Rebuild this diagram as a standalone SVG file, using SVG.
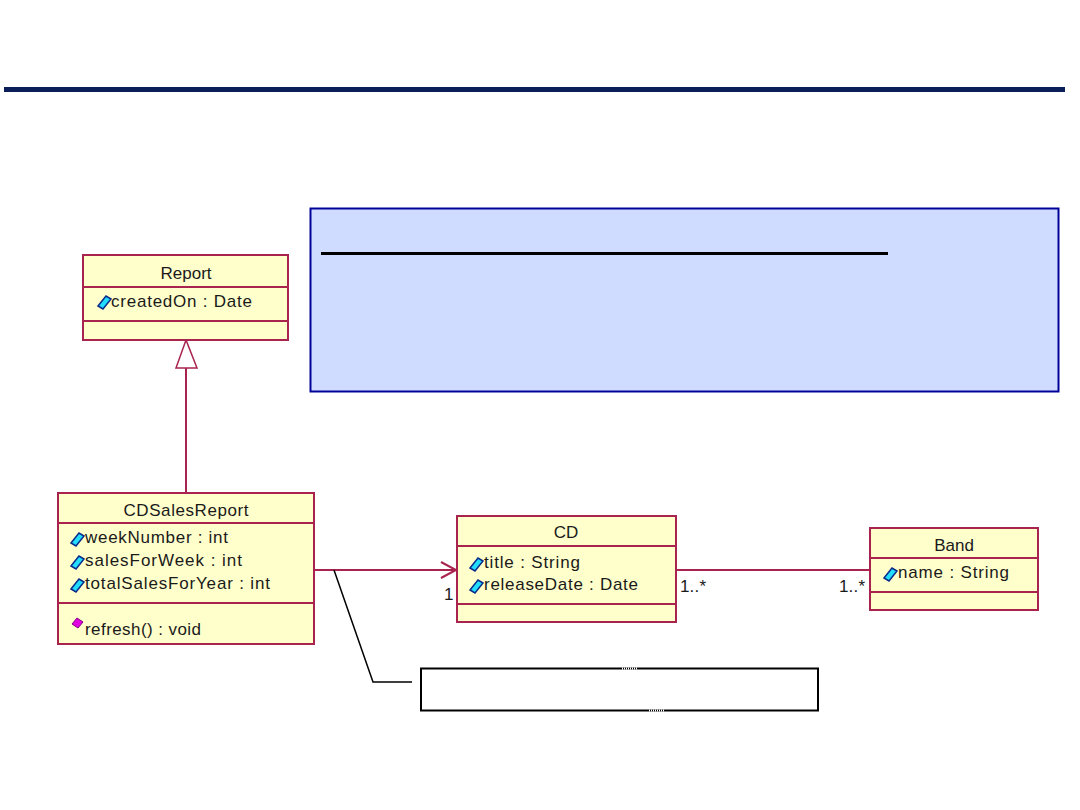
<svg xmlns="http://www.w3.org/2000/svg" xmlns:xlink="http://www.w3.org/1999/xlink" width="1080" height="810" viewBox="0 0 1080 810">
<style>
.cls{fill:#FFFFCC;stroke:#A8244E;stroke-width:2}
.div{stroke:#A8244E;stroke-width:2}
.t{font-family:"Liberation Sans",Arial,sans-serif;font-size:17px;fill:#1a1a1a}
.c{text-anchor:middle}
.m{font-family:"Liberation Sans",Arial,sans-serif;font-size:17px;fill:#1a1a1a}
.conn{stroke:#A8244E;stroke-width:2;fill:none}
</style>
<defs>
<polygon id="attr" points="0,7 8,-3 13,0 5,10" fill="#22DDFF" stroke="#0A2A8A" stroke-width="1.5"/>
<polygon id="op" points="0,3 5,-3 11,1 6,7" fill="#E000E0" stroke="#800080" stroke-width="1"/>
</defs>
<rect width="1080" height="810" fill="#FFFFFF"/>
<rect x="4" y="87" width="1061" height="5" fill="#0A1E5A"/>

<g id="note-main">
<rect x="310.5" y="208.5" width="748" height="183" fill="#D0DCFF" stroke="#000099" stroke-width="2"/>
<line x1="321" y1="253.5" x2="888" y2="253.5" stroke="#000" stroke-width="3"/>
</g>

<g id="connectors">
<line class="conn" x1="186" y1="368" x2="186" y2="493"/>
<polygon points="186,340 176,368 197,368" fill="#FFFFFF" stroke="#A8244E" stroke-width="1.5"/>
<line class="conn" x1="314" y1="570" x2="456" y2="570"/>
<polyline class="conn" points="441,562 456,570 441,578" stroke-width="1.5"/>
<line class="conn" x1="676" y1="570" x2="870" y2="570"/>
<polyline points="334,570 373,682 412,682" fill="none" stroke="#000" stroke-width="1.5"/>
<text class="m" x="444" y="600">1</text>
<text class="m" x="680" y="592" textLength="26" lengthAdjust="spacing">1..*</text>
<text class="m" x="839" y="592" textLength="26" lengthAdjust="spacing">1..*</text>
</g>

<g id="Report">
<rect class="cls" x="83" y="255" width="205" height="85"/>
<line class="div" x1="83" y1="287" x2="288" y2="287"/>
<line class="div" x1="83" y1="321" x2="288" y2="321"/>
<text class="t c" x="186" y="279">Report</text>
<use xlink:href="#attr" x="98" y="299"/>
<text class="t" x="111" y="307" textLength="141" lengthAdjust="spacing">createdOn : Date</text>
</g>

<g id="CDSalesReport">
<rect class="cls" x="58" y="493" width="256" height="151"/>
<line class="div" x1="58" y1="523" x2="314" y2="523"/>
<line class="div" x1="58" y1="603" x2="314" y2="603"/>
<text class="t c" x="186" y="516" textLength="125" lengthAdjust="spacing">CDSalesReport</text>
<use xlink:href="#attr" x="71" y="536"/>
<text class="t" x="85" y="543" textLength="143" lengthAdjust="spacing">weekNumber : int</text>
<use xlink:href="#attr" x="71" y="559"/>
<text class="t" x="85" y="566" textLength="157" lengthAdjust="spacing">salesForWeek :  int</text>
<use xlink:href="#attr" x="71" y="582"/>
<text class="t" x="85" y="589" textLength="185" lengthAdjust="spacing">totalSalesForYear : int</text>
<use xlink:href="#op" x="72" y="621"/>
<text class="t" x="85" y="635" textLength="116" lengthAdjust="spacing">refresh() : void</text>
</g>

<g id="CD">
<rect class="cls" x="457" y="516" width="219" height="106"/>
<line class="div" x1="457" y1="546" x2="676" y2="546"/>
<line class="div" x1="457" y1="604" x2="676" y2="604"/>
<text class="t c" x="566" y="538">CD</text>
<use xlink:href="#attr" x="470" y="561"/>
<text class="t" x="484" y="568" textLength="96" lengthAdjust="spacing">title : String</text>
<use xlink:href="#attr" x="470" y="583"/>
<text class="t" x="484" y="590" textLength="154" lengthAdjust="spacing">releaseDate : Date</text>
</g>

<g id="Band">
<rect class="cls" x="870" y="528" width="168" height="82"/>
<line class="div" x1="870" y1="558" x2="1038" y2="558"/>
<line class="div" x1="870" y1="592" x2="1038" y2="592"/>
<text class="t c" x="954" y="551">Band</text>
<use xlink:href="#attr" x="884" y="571"/>
<text class="t" x="898" y="578" textLength="111" lengthAdjust="spacing">name : String</text>
</g>

<g id="note-small">
<rect x="421" y="668.5" width="397" height="42" fill="#FFFFFF" stroke="#000" stroke-width="2"/>
<line x1="622" y1="668.5" x2="638" y2="668.5" stroke="#FFFFFF" stroke-width="2" stroke-dasharray="1,1"/>
<line x1="649" y1="710.5" x2="665" y2="710.5" stroke="#FFFFFF" stroke-width="2" stroke-dasharray="1,1"/>
</g>
</svg>
